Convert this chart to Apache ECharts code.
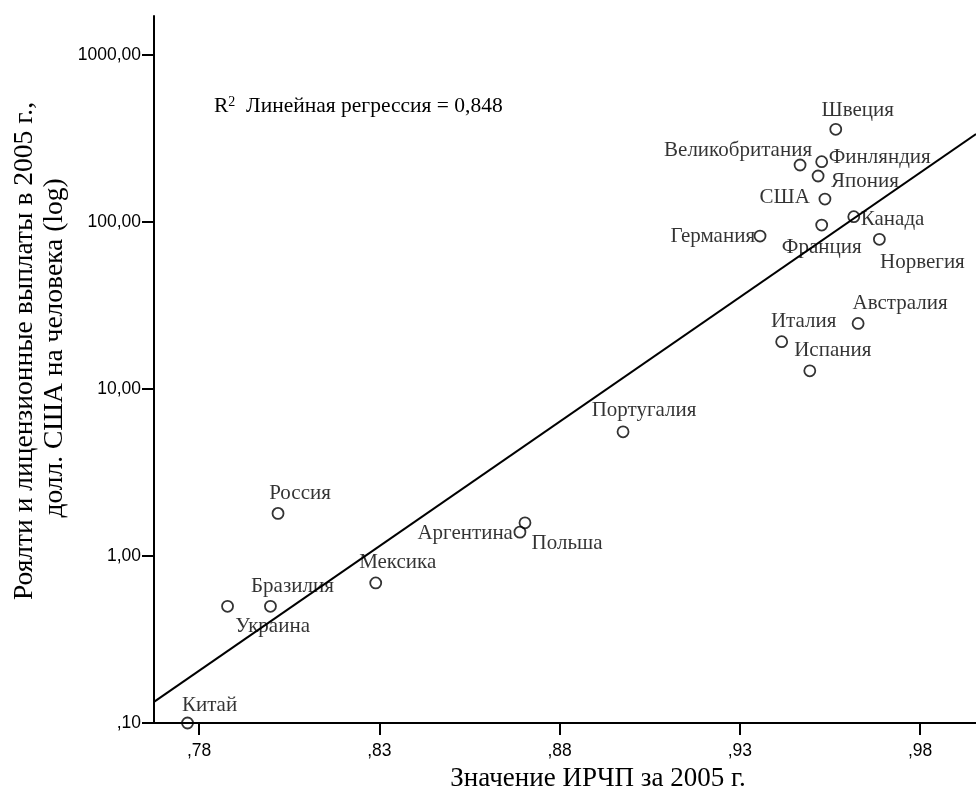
<!DOCTYPE html>
<html>
<head>
<meta charset="utf-8">
<script src="https://cdn.jsdelivr.net/npm/echarts@6/dist/echarts.min.js"></script>
<style>
html,body{margin:0;padding:0;background:#fff;}
#chart{width:976px;height:798px;}
</style>
</head>
<body>
<div id="chart"></div>
<script>
// ---- data ----
const countries = ["Китай","Украина","Бразилия","Россия","Мексика","Аргентина","Польша","Португалия",
  "Германия","Великобритания","Финляндия","Швеция","Япония","США","Франция","Канада","Норвегия",
  "Австралия","Италия","Испания"];
const hdi = [0.7768,0.7879,0.7998,0.8019,0.8290,0.8690,0.8704,0.8976,
  0.9356,0.9467,0.9527,0.9566,0.9517,0.9536,0.9527,0.9616,0.9687,
  0.9628,0.9416,0.9494];
const royalties = [0.10,0.50,0.50,1.80,0.69,1.39,1.58,5.54,
  82.4,219.5,229.8,359,188.7,137.3,95.9,107.6,78.8,
  24.7,19.2,12.85];
const fitX = [0.7675, 0.9955];
const fitY = [0.1337, 336.5];
const xTickValues = [0.78,0.83,0.88,0.93,0.98];
const xTickLabels = [",78",",83",",88",",93",",98"];
const yTickValues = [0.1,1,10,100,1000];
const yTickLabels = [",10","1,00","10,00","100,00","1000,00"];
const xTitle = "Значение ИРЧП за 2005 г.";
const yTitleLines = ["Роялти и лицензионные выплаты в 2005 г.,","долл. США на человека (log)"];
const r2Text = "Линейная регрессия = 0,848";

// ---- label layout (offsets from the point, px) ----
const labelLayout = {
  "Китай":[22,-18,"center"], "Украина":[45,20,"center"], "Бразилия":[22,-20,"center"],
  "Россия":[22,-20,"center"], "Мексика":[22,-20,"center"], "Аргентина":[-7,1,"right"],
  "Польша":[42,21,"center"], "Португалия":[21,-21,"center"], "Германия":[-5,0,"right"],
  "Великобритания":[-62,-15,"center"], "Финляндия":[7,-4,"left"], "Швеция":[22,-19,"center"],
  "Япония":[13,6,"left"], "США":[-15,-2,"right"], "Франция":[0,22,"center"],
  "Канада":[7,3,"left"], "Норвегия":[43,23,"center"], "Австралия":[42,-20,"center"],
  "Италия":[22,-20,"center"], "Испания":[23,-20,"center"]
};

function lookup(vals, labels, v){
  let best=0, bd=Infinity;
  vals.forEach((x,i)=>{const d=Math.abs(Math.log(x)-Math.log(v)); if(d<bd){bd=d;best=i;}});
  return labels[best];
}
function lookupLin(vals, labels, v){
  let best=0, bd=Infinity;
  vals.forEach((x,i)=>{const d=Math.abs(x-v); if(d<bd){bd=d;best=i;}});
  return labels[best];
}

const serif = '"Liberation Serif","Times New Roman",serif';
const sans = '"Liberation Sans",Arial,sans-serif';

const chart = echarts.init(document.getElementById('chart'), null, {renderer:'canvas'});
const scatterData = countries.map((n,i)=>{
  const l = labelLayout[n];
  return {name:n, value:[hdi[i], royalties[i]],
    label:{show:true, position:'inside', offset:[l[0],l[1]], align:l[2], verticalAlign:'middle'}};
});

chart.setOption({
  animation:false,
  backgroundColor:'#fff',
  grid:{left:154, top:16, right:0, bottom:75, containLabel:false},
  xAxis:{
    type:'value', min:0.7675, max:0.9955,
    axisLine:{onZero:false, lineStyle:{color:'#000', width:2}},
    axisTick:{show:true, customValues:xTickValues, length:12, lineStyle:{color:'#000', width:2}},
    axisLabel:{customValues:xTickValues, formatter:v=>lookupLin(xTickValues,xTickLabels,v),
      fontFamily:sans, fontSize:17.5, color:'#000', margin:19},
    splitLine:{show:false}
  },
  yAxis:{
    type:'log', logBase:10, min:0.1, max:1713,
    axisLine:{onZero:false, lineStyle:{color:'#000', width:2}},
    axisTick:{show:true, customValues:yTickValues, length:12, lineStyle:{color:'#000', width:2}},
    axisLabel:{customValues:yTickValues, formatter:v=>lookup(yTickValues,yTickLabels,v),
      fontFamily:sans, fontSize:17.5, color:'#000', margin:13},
    splitLine:{show:false}, minorTick:{show:false}
  },
  series:[
    {type:'line', data:fitX.map((x,i)=>[x,fitY[i]]), showSymbol:false, symbol:'none',
      lineStyle:{color:'#000', width:2}, silent:true, z:2, clip:true},
    {type:'scatter', data:scatterData, symbol:'circle', symbolSize:11,
      itemStyle:{color:'rgba(255,255,255,0)', borderColor:'#000', borderWidth:1.8},
      label:{show:true, formatter:'{b}', fontFamily:serif, fontSize:21, color:'#000'},
      z:3}
  ],
  graphic:[
    {type:'text', x:214, y:106, style:{
      text:'{r|R}{s|2}{t|  '+r2Text+'}',
      verticalAlign:'middle', align:'left',
      rich:{
        r:{fontFamily:serif, fontSize:21.5, fill:'#000', verticalAlign:'bottom'},
        s:{fontFamily:serif, fontSize:14, fill:'#000', verticalAlign:'top'},
        t:{fontFamily:serif, fontSize:21.5, fill:'#000', verticalAlign:'bottom'}
      }}},
    {type:'text', x:598, y:779, style:{text:xTitle, fontFamily:serif, fontSize:27, fill:'#000',
      align:'center', verticalAlign:'middle'}},
    {type:'text', x:25, y:351, rotation:Math.PI/2, style:{text:yTitleLines[0], fontFamily:serif, fontSize:27.5,
      fill:'#000', align:'center', verticalAlign:'middle'}},
    {type:'text', x:55, y:348, rotation:Math.PI/2, style:{text:yTitleLines[1], fontFamily:serif, fontSize:27.5,
      fill:'#000', align:'center', verticalAlign:'middle'}}
  ]
});
</script>
</body>
</html>
